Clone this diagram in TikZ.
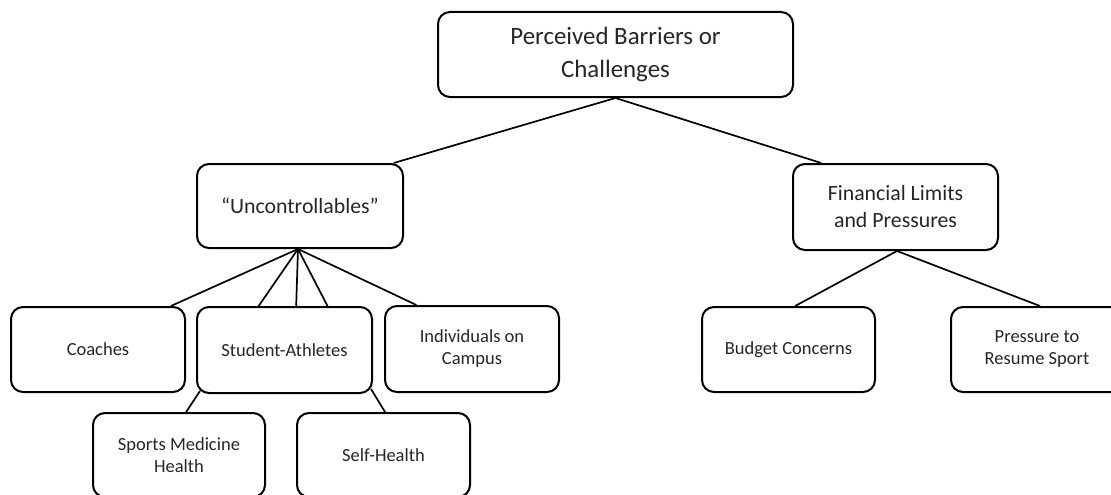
\documentclass[tikz,border=0pt]{standalone}
\usepackage{fontspec}
\setmainfont{Carlito}
\usetikzlibrary{calc}
\definecolor{boxtext}{HTML}{262626}
\tikzset{
  box/.style={draw=black, line width=2pt, rounded corners=12pt, fill=white,
    inner sep=0pt, align=center, text=boxtext},
  rootbox/.style={box, font=\fontsize{24.9}{33}\selectfont},
  midbox/.style={box, font=\fontsize{21.8}{27}\selectfont},
  leafbox/.style={box, font=\fontsize{18.5}{22}\selectfont},
  link/.style={draw=black, line width=1.7pt},
}
\begin{document}
\begin{tikzpicture}[x=1pt, y=-1pt]
\useasboundingbox (0,0) rectangle (1111,495);
\clip (0,0) rectangle (1111,495);

% top level
\node[rootbox, minimum width=355pt, minimum height=85pt] (root) at (615.5,54.5)
  {Perceived Barriers or\\Challenges};

% second level
\node[midbox, minimum width=206pt, minimum height=84pt] (unc) at (300,206)
  {“Uncontrollables”};
\node[midbox, minimum width=205pt, minimum height=86pt] (fin) at (895.5,207)
  {Financial Limits\\and Pressures};

% third level
\node[leafbox, minimum width=174pt, minimum height=85pt] (coach) at (98,349.5) {Coaches};
\node[leafbox, minimum width=175pt, minimum height=86pt] (sa) at (284.5,350) {Student-Athletes};
\node[leafbox, minimum width=174pt, minimum height=86pt] (ind) at (472,349) {Individuals on\\Campus};
\node[leafbox, minimum width=173pt, minimum height=85pt] (bud) at (788.5,349.5) {Budget Concerns};
\node[leafbox, minimum width=172pt, minimum height=85pt] (pres) at (1037,349.5) {Pressure to\\Resume Sport};

% fourth level
\node[leafbox, minimum width=172pt, minimum height=84pt] (smh) at (179,455) {Sports Medicine\\Health};
\node[leafbox, minimum width=173pt, minimum height=84pt] (self) at (383.5,455) {Self-Health};

% connectors
\draw[link] (root.south) -- ($(unc.north west)!0.951!(unc.north east)$);
\draw[link] (root.south) -- ($(fin.north west)!0.141!(fin.north east)$);

\coordinate (uncfoot) at ($(unc.south)+(-2,0)$);
\draw[link] (uncfoot) -- ($(coach.north west)!0.914!(coach.north east)$);
\draw[link] (uncfoot) -- ($(sa.north west)!0.354!(sa.north east)$);
\draw[link] (uncfoot) -- ($(sa.north west)!0.566!(sa.north east)$);
\draw[link] (uncfoot) -- ($(sa.north west)!0.743!(sa.north east)$);
\draw[link] (uncfoot) -- ($(ind.north west)!0.184!(ind.north east)$);

\coordinate (finfoot) at ($(fin.south)+(1.5,0)$);
\draw[link] (finfoot) -- ($(bud.north west)!0.538!(bud.north east)$);
\draw[link] (finfoot) -- ($(pres.north west)!0.517!(pres.north east)$);

\draw[link] ($(sa.south west)+(4,-3)$) -- ($(smh.north west)!0.541!(smh.north east)$);
\draw[link] ($(sa.south east)+(-2,-5)$) -- ($(self.north west)!0.509!(self.north east)$);
\end{tikzpicture}
\end{document}
